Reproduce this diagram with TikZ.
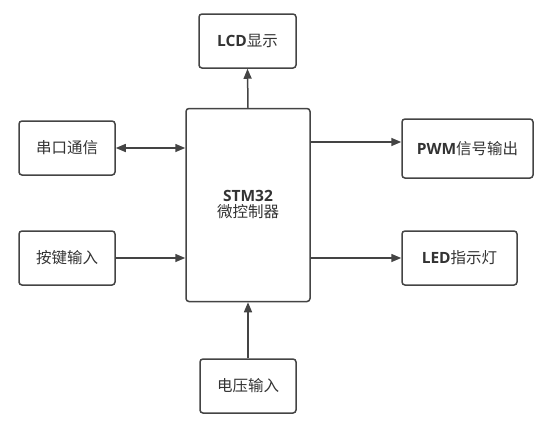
\documentclass[tikz,border=0pt]{standalone}
\usepackage{fontspec}
\setmainfont{Open Sans}
\newfontfamily\cjk{Noto Sans CJK SC}
\usetikzlibrary{arrows.meta}
\definecolor{edge}{HTML}{444444}
\definecolor{txt}{HTML}{333333}
\tikzset{
  blk/.style={draw=edge, line width=1.5pt, rounded corners=3pt, fill=white, text=txt, font=\fontsize{15.5}{18}\selectfont, inner sep=0pt},
  conn/.style={draw=edge, line width=1.5pt, -{Triangle[length=10pt,width=8pt]}},
  biconn/.style={draw=edge, line width=1.5pt, {Triangle[length=10pt,width=8pt]}-{Triangle[length=10pt,width=8pt]}}
}
\begin{document}
\begin{tikzpicture}[x=1pt,y=-1pt]
\useasboundingbox (0,0) rectangle (549,424);
\node[blk, minimum width=124pt, minimum height=193pt, align=center] (mcu) at (248,205) {\textbf{STM32}\\[-2pt]{\cjk 微控制器}};
\node[blk, minimum width=97pt, minimum height=54pt] (lcd) at (247.5,41) {\textbf{LCD}{\cjk 显示}};
\node[blk, minimum width=96pt, minimum height=54pt] (uart) at (67,148) {\cjk 串口通信};
\node[blk, minimum width=96pt, minimum height=54pt] (key) at (67,258) {\cjk 按键输入};
\node[blk, minimum width=131pt, minimum height=59pt] (pwm) at (467.5,148.5) {\textbf{PWM}{\cjk 信号输出}};
\node[blk, minimum width=115pt, minimum height=54pt] (led) at (459.5,258) {\textbf{LED}{\cjk 指示灯}};
\node[blk, minimum width=96pt, minimum height=54pt] (volt) at (248,386) {\cjk 电压输入};
\coordinate (p1) at ([yshift=6.5pt]mcu.east |- pwm.west);
\coordinate (p2) at ([yshift=6.5pt]pwm.west);
\draw[conn] (mcu.north) -- (lcd.south);
\draw[biconn] (uart.east) -- (uart.east -| mcu.west);
\draw[conn] (key.east) -- (key.east -| mcu.west);
\draw[conn] (p1) -- (p2);
\draw[conn] (mcu.east |- led.west) -- (led.west);
\draw[conn] (volt.north) -- (mcu.south);
\end{tikzpicture}
\end{document}
